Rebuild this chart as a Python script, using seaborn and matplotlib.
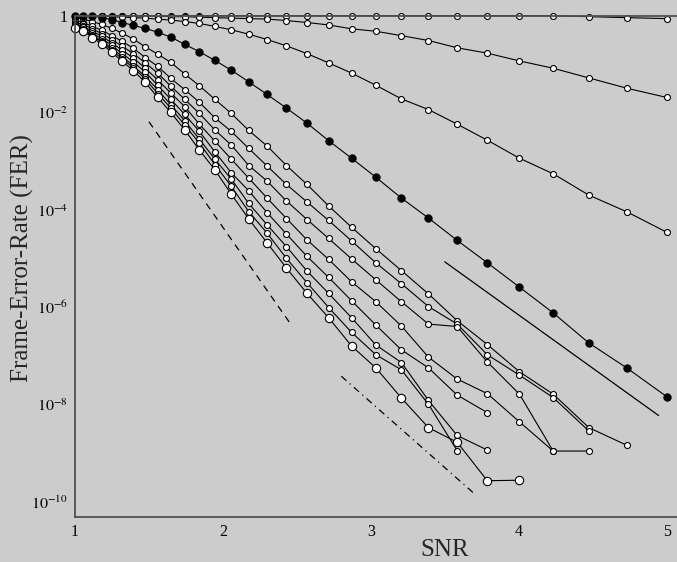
import numpy as np
import pandas as pd
import seaborn as sns
import matplotlib.pyplot as plt
from matplotlib.ticker import NullLocator

# SNR grid shared by all curves (each curve starts at snr[0])
snr = [1.000, 1.057, 1.117, 1.181, 1.249, 1.320, 1.395, 1.475, 1.559, 1.648,
       1.742, 1.841, 1.946, 2.057, 2.175, 2.299, 2.430, 2.569, 2.715, 2.870,
       3.034, 3.207, 3.390, 3.584, 3.788, 4.005, 4.233, 4.475, 4.730, 5.000]

# log10(FER)
fer_top = [0.0, 0.0, 0.0, 0.0, 0.0, 0.0, 0.0, 0.0, 0.0, 0.0,
           0.0, 0.0, 0.0, 0.0, 0.0, 0.0, 0.0, 0.0, 0.0, 0.0,
           0.0, 0.0, 0.0, 0.0, 0.0, 0.0, 0.0, -0.02, -0.04, -0.06]
fer_c2 = [0.0, 0.0, 0.0, 0.0, 0.0, 0.0, 0.0, -0.01, -0.01, -0.02,
          -0.02, -0.03, -0.04, -0.05, -0.06, -0.07, -0.10, -0.14, -0.19, -0.27,
          -0.32, -0.41, -0.51, -0.66, -0.77, -0.93, -1.08, -1.28, -1.49, -1.68]
fer_c3 = [0.0, 0.0, 0.0, -0.01, -0.02, -0.03, -0.04, -0.05, -0.07, -0.09,
          -0.12, -0.16, -0.22, -0.29, -0.38, -0.49, -0.62, -0.78, -0.97, -1.18,
          -1.43, -1.71, -1.93, -2.23, -2.56, -2.93, -3.25, -3.69, -4.03, -4.45]
fer_black = [0.0, 0.0, 0.0, -0.04, -0.08, -0.14, -0.20, -0.26, -0.34, -0.44,
             -0.59, -0.74, -0.92, -1.12, -1.36, -1.62, -1.90, -2.21, -2.57, -2.93,
             -3.32, -3.75, -4.16, -4.62, -5.08, -5.58, -6.11, -6.73, -7.24, -7.83]
fer_w1 = [-0.04, -0.07, -0.12, -0.18, -0.26, -0.36, -0.48, -0.64, -0.79, -0.96,
          -1.20, -1.44, -1.72, -2.01, -2.36, -2.68, -3.08, -3.47, -3.91, -4.35,
          -4.79, -5.24, -5.72, -6.27, -6.76, -7.32, -7.78, -8.47, -8.83]
fer_w2 = [-0.10, -0.14, -0.22, -0.30, -0.41, -0.53, -0.67, -0.86, -1.04, -1.29,
          -1.52, -1.78, -2.10, -2.38, -2.73, -3.09, -3.47, -3.83, -4.21, -4.63,
          -5.08, -5.51, -5.98, -6.34, -6.97, -7.39, -7.85, -8.54]
fer_w3 = [-0.14, -0.18, -0.27, -0.37, -0.49, -0.63, -0.78, -0.97, -1.18, -1.45,
          -1.72, -2.01, -2.35, -2.66, -3.08, -3.40, -3.81, -4.19, -4.58, -5.00,
          -5.43, -5.88, -6.34, -6.39, -7.12, -7.78, -8.95, -8.95]
fer_w4 = [-0.17, -0.22, -0.32, -0.42, -0.56, -0.71, -0.87, -1.08, -1.32, -1.59,
          -1.87, -2.23, -2.58, -2.95, -3.34, -3.75, -4.17, -4.61, -5.01, -5.47,
          -5.88, -6.38, -7.02, -7.47, -7.77, -8.35, -8.95]
fer_w5 = [-0.20, -0.24, -0.36, -0.47, -0.61, -0.78, -0.95, -1.16, -1.43, -1.72,
          -2.03, -2.38, -2.80, -3.23, -3.60, -4.05, -4.49, -4.95, -5.38, -5.86,
          -6.36, -6.87, -7.24, -7.80, -8.16]
fer_w6 = [-0.22, -0.28, -0.40, -0.52, -0.67, -0.84, -1.03, -1.25, -1.52, -1.83,
          -2.16, -2.54, -2.95, -3.36, -3.86, -4.30, -4.75, -5.25, -5.71, -6.21,
          -6.77, -7.13, -7.91, -8.63, -8.93]
fer_w7 = [-0.24, -0.29, -0.42, -0.54, -0.71, -0.89, -1.07, -1.30, -1.60, -1.90,
          -2.25, -2.62, -3.06, -3.51, -4.03, -4.47, -4.99, -5.49, -6.00, -6.51,
          -6.97, -7.28, -7.99, -8.94]
fer_w8 = [-0.26, -0.31, -0.45, -0.58, -0.75, -0.94, -1.13, -1.37, -1.68, -1.99,
          -2.35, -2.76, -3.17, -3.67, -4.18, -4.67, -5.19, -5.71, -6.21, -6.79,
          -7.24, -7.86, -8.47, -8.77, -9.56, -9.55]

# reference slopes: (snr start, snr end), (log10 FER start, log10 FER end)
ref_solid = ([3.50, 4.946], [-5.06, -8.22])
ref_dashed = ([1.50, 2.465], [-2.18, -6.37])
ref_dashdot = ([2.80, 3.69], [-7.41, -9.80])

yticks = [1, 1e-2, 1e-4, 1e-6, 1e-8, 1e-10]
ytick_labels = ["1", r"$10^{-2}$", r"$10^{-4}$", r"$10^{-6}$", r"$10^{-8}$", r"$10^{-10}$"]
xticks = [1, 2, 3, 4, 5]

curves = [
    ("top", fer_top, "small"),
    ("c2", fer_c2, "small"),
    ("c3", fer_c3, "small"),
    ("w1", fer_w1, "small"),
    ("w2", fer_w2, "small"),
    ("w3", fer_w3, "small"),
    ("w4", fer_w4, "small"),
    ("w5", fer_w5, "small"),
    ("w6", fer_w6, "small"),
    ("w7", fer_w7, "small"),
    ("w8", fer_w8, "big"),
    ("black", fer_black, "black"),
]

rows = []
for name, vals, kind in curves:
    for x, v in zip(snr, vals):
        rows.append({"curve": name, "snr": x, "fer": 10.0 ** v})
df = pd.DataFrame(rows)

marker_style = {
    "small": dict(ms=4.3, mfc="white", mew=0.8),
    "big": dict(ms=6.0, mfc="white", mew=0.8),
    "black": dict(ms=5.2, mfc="black", mew=0.8),
}

bg = "#cccccc"
spine_col = "#505050"
sns.set_style("white", {"axes.facecolor": bg, "figure.facecolor": bg})
plt.rcParams["font.family"] = ["Liberation Serif", "DejaVu Serif"]
plt.rcParams["mathtext.fontset"] = "stix"

fig = plt.figure(figsize=(6.77, 5.62), dpi=100)
ax = fig.add_axes([75 / 677, 45.3 / 562, 1 - 75 / 677, 501 / 562])

for name, vals, kind in curves:
    sub = df[df["curve"] == name]
    sns.lineplot(data=sub, x="snr", y="fer", ax=ax, color="black", lw=0.8,
                 marker="o", mec="black", clip_on=False, sort=False,
                 errorbar=None, legend=False, **marker_style[kind])

for (xs, ys), ls in [(ref_solid, "-"), (ref_dashed, (0, (5.5, 4.5))),
                     (ref_dashdot, (0, (5.5, 3.5, 1, 3.5)))]:
    ref = pd.DataFrame({"snr": xs, "fer": [10.0 ** v for v in ys]})
    sns.lineplot(data=ref, x="snr", y="fer", ax=ax, color="black", lw=0.9,
                 linestyle=ls, sort=False, errorbar=None, legend=False)

ax.set_yscale("log")
ax.set_xlim(1, 1 + 602 / 147.9)
ax.set_ylim(10 ** -10.3, 1)
ax.set_yticks(yticks)
ax.set_yticklabels(ytick_labels)
ax.yaxis.set_minor_locator(NullLocator())
ax.set_xticks(xticks)
ax.set_xticklabels([str(t) for t in xticks])
ax.tick_params(direction="in", length=4, width=1.2, color=spine_col,
               labelsize=11.5, pad=5, labelcolor="black")
ax.set_xlabel("")
ax.set_ylabel("")
for side in ["left", "bottom", "top"]:
    ax.spines[side].set_color(spine_col)
    ax.spines[side].set_linewidth(1.3)
ax.spines["right"].set_visible(False)

fig.text(445 / 677, 1 - 550 / 562, "SNR", fontsize=18, ha="center", va="center")
fig.text(22 / 677, 1 - 258 / 562, "Frame-Error-Rate (FER)", fontsize=18,
         rotation=90, ha="center", va="center")

fig.savefig("out.png", dpi=100, facecolor=bg)
